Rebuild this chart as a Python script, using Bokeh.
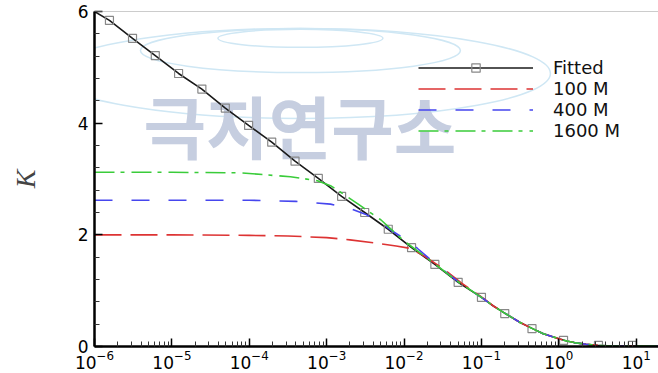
from bokeh.plotting import figure
from bokeh.models import Range1d, FixedTicker, Legend, LegendItem, Label, Span
from bokeh.embed import file_html
from bokeh.resources import INLINE

# ---- data ----
marker_x = [1.56e-6, 3.1e-6, 6.1e-6, 1.22e-5, 2.44e-5, 4.9e-5, 9.8e-5, 1.95e-4,
            3.9e-4, 7.8e-4, 1.56e-3, 3.1e-3, 6.25e-3, 1.25e-2, 2.5e-2, 5e-2,
            0.1, 0.2, 0.45, 1.15, 3.25, 8.9]
marker_y = [5.84, 5.52, 5.21, 4.89, 4.61, 4.27, 3.96, 3.66, 3.32, 3.01, 2.69,
            2.40, 2.10, 1.77, 1.47, 1.15, 0.88, 0.59, 0.32, 0.11, 0.02, 0.02]

fit_start_x = [1e-6]
fit_start_y = [6.0]

tail_x = [0.141, 0.204, 0.316, 0.457, 0.63, 1.0, 1.26, 1.58, 2.24, 3.16, 5.0, 10.0, 19.0, 25.0]
tail_y = [0.73, 0.59, 0.43, 0.32, 0.23, 0.14, 0.10, 0.07, 0.04, 0.02, 0.01, 0.01, 0.01, 0.01]

m100_x = [1e-6, 1e-5, 1e-4, 3.16e-4, 1e-3, 2e-3, 4.5e-3, 7.9e-3, 1.17e-2,
          1.78e-2, 3.16e-2, 5.6e-2, 0.1]
m100_y = [2.00, 2.00, 1.99, 1.98, 1.95, 1.91, 1.85, 1.80, 1.76, 1.63, 1.40, 1.13, 0.89]

m400_x = [1e-6, 1e-5, 1e-4, 4e-4, 1.12e-3, 2.04e-3, 3.16e-3, 5.25e-3, 7.2e-3,
          1.15e-2, 1.48e-2, 2.5e-2, 5e-2, 0.1]
m400_y = [2.62, 2.62, 2.62, 2.60, 2.55, 2.47, 2.37, 2.20, 2.06, 1.88, 1.76, 1.49, 1.16, 0.88]

m1600_x = [1e-6, 1e-5, 7.9e-5, 3.4e-4, 7.6e-4, 1.12e-3, 1.38e-3, 2.5e-3, 5e-3,
           1e-2, 2e-2, 5e-2, 0.1]
m1600_y = [3.12, 3.12, 3.11, 3.04, 2.97, 2.88, 2.80, 2.56, 2.27, 1.89, 1.58, 1.16, 0.88]

x_ticks = [1e-6, 1e-5, 1e-4, 1e-3, 1e-2, 1e-1, 1e0, 1e1]
y_ticks = [0, 2, 4, 6]
y_minor = [0.4, 0.8, 1.2, 1.6, 2.4, 2.8, 3.2, 3.6, 4.4, 4.8, 5.2, 5.6]

labels = ["Fitted", "100 M", "400 M", "1600 M"]

# ---- figure ----
p = figure(width=658, height=373, x_axis_type="log",
           x_range=Range1d(1e-6, 19.4), y_range=Range1d(0, 6),
           output_backend="svg", toolbar_location=None,
           min_border_left=94, min_border_right=0, min_border_top=11,
           min_border_bottom=27)
p.xgrid.visible = False
p.ygrid.visible = False
p.outline_line_color = None
p.background_fill_color = "white"
p.border_fill_color = "white"

wm = "#c6cee0"
ring = "#cfe7f4"
# watermark (decoration)
p.ellipse(x=[4.58e-4, 4.58e-4, 4.58e-4], y=[5.30, 5.52, 4.89],
          width=[320, 165, 500], height=[44, 18, 90],
          width_units="screen", height_units="screen",
          fill_color=None, line_color=ring, line_width=1.5, level="underlay")
p.add_layout(Label(x=4.3e-6, y=3.98, text="극지연구소", text_font="Noto Sans CJK KR",
                   text_font_style="bold", text_font_size="68px", text_color=wm,
                   text_align="left", text_baseline="middle", level="underlay"))

p.add_layout(Span(location=6, dimension="width", line_color="#999999", line_width=1))

fit_line = p.line(fit_start_x + marker_x[:17] + tail_x, fit_start_y + marker_y[:17] + tail_y,
                  line_color="#1a1a1a", line_width=1.6)
fit_marks = p.scatter(marker_x, marker_y, marker="square", size=8,
                      fill_color=None, line_color="#888888", line_width=1.2)
r100 = p.line(m100_x + tail_x, m100_y + tail_y, line_color="#dd3333",
              line_width=1.6, line_dash="27 9")
r400 = p.line(m400_x + tail_x, m400_y + tail_y, line_color="#4646ee",
              line_width=1.6, line_dash="18 19")
r1600 = p.line(m1600_x + tail_x, m1600_y + tail_y, line_color="#3acc3a",
               line_width=1.6, line_dash="20 6 4 7")

legend = Legend(items=[LegendItem(label=labels[0], renderers=[fit_line, fit_marks]),
                       LegendItem(label=labels[1], renderers=[r100]),
                       LegendItem(label=labels[2], renderers=[r400]),
                       LegendItem(label=labels[3], renderers=[r1600])],
                location=(324, 205), glyph_width=115, glyph_height=21,
                label_height=21, label_standoff=20, spacing=0, padding=0,
                margin=0, border_line_color=None, background_fill_alpha=0,
                label_text_font="DejaVu Sans", label_text_font_size="18px",
                label_text_color="#111111")
p.add_layout(legend, "center")

# axes
minor_x = [m * d for d in x_ticks for m in (2, 3, 4, 5, 6, 7, 8, 9)]
p.xaxis.ticker = FixedTicker(ticks=x_ticks, minor_ticks=minor_x)
p.yaxis.ticker = FixedTicker(ticks=y_ticks, minor_ticks=y_minor)
for ax in (p.xaxis, p.yaxis):
    ax.axis_line_width = 2.5
    ax.axis_line_color = "black"
    ax.major_tick_in = 8
    ax.major_tick_out = 0
    ax.minor_tick_in = 5
    ax.minor_tick_out = 0
    ax.major_tick_line_width = 1.5
    ax.minor_tick_line_width = 1
    ax.major_tick_line_color = "black"
    ax.minor_tick_line_color = "#333333"
    ax.major_label_text_font = "DejaVu Sans"
    ax.major_label_text_color = "black"
p.xaxis.major_label_text_font_size = "17px"
p.yaxis.major_label_text_font_size = "17px"
p.xaxis.major_label_standoff = 3
p.yaxis.major_label_standoff = 6
p.yaxis.axis_label = "K"
p.yaxis.axis_label_text_font = "Liberation Serif"
p.yaxis.axis_label_text_font_style = "italic"
p.yaxis.axis_label_text_font_size = "28px"
p.yaxis.axis_label_standoff = 34

open("out.html", "w").write(file_html(p, INLINE))
